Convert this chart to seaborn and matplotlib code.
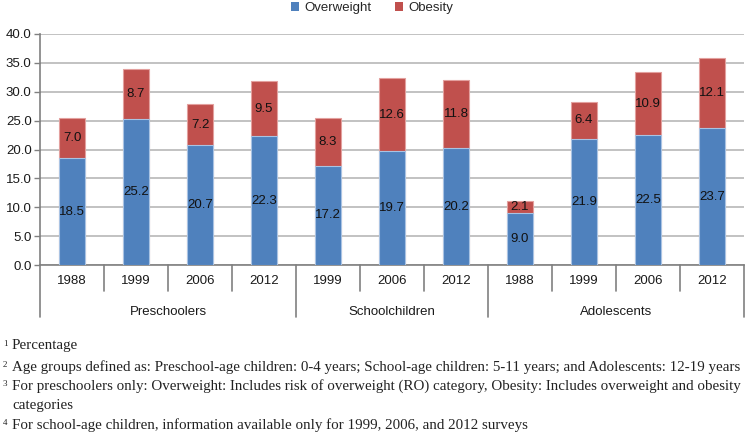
import matplotlib
matplotlib.use("Agg")
import matplotlib.pyplot as plt
import matplotlib.transforms as mtransforms
from matplotlib.patches import Patch
import seaborn as sns
import pandas as pd

groups = ["Preschoolers", "Preschoolers", "Preschoolers", "Preschoolers",
          "Schoolchildren", "Schoolchildren", "Schoolchildren",
          "Adolescents", "Adolescents", "Adolescents", "Adolescents"]
years = ["1988", "1999", "2006", "2012", "1999", "2006", "2012",
         "1988", "1999", "2006", "2012"]
overweight = [18.5, 25.2, 20.7, 22.3, 17.2, 19.7, 20.2, 9.0, 21.9, 22.5, 23.7]
obesity = [7.0, 8.7, 7.2, 9.5, 8.3, 12.6, 11.8, 2.1, 6.4, 10.9, 12.1]
yticks = [0, 5, 10, 15, 20, 25, 30, 35, 40]
footnotes = [
    ("1", "Percentage"),
    ("2", "Age groups defined as: Preschool-age children: 0-4 years; School-age children: 5-11 years; and Adolescents: 12-19 years"),
    ("3", "For preschoolers only: Overweight: Includes risk of overweight (RO) category, Obesity: Includes overweight and obesity"),
    ("", "categories"),
    ("4", "For school-age children, information available only for 1999, 2006, and 2012 surveys"),
]

BLUE = "#4f81bd"
RED = "#c0504d"
FS = 9.5

df = pd.DataFrame({"group": groups, "year": years,
                   "overweight": overweight, "obesity": obesity})
df["key"] = df["group"] + " " + df["year"]
df["total"] = df["overweight"] + df["obesity"]
order = list(df["key"])

sns.set_theme(style="white")
plt.rcParams["font.family"] = ["Liberation Sans", "DejaVu Sans"]

fig = plt.figure(figsize=(7.48, 4.33), dpi=100)
ax = fig.add_axes([40 / 748, 1 - 265 / 433, 704 / 748, 231 / 433])

sns.barplot(data=df, x="key", y="total", order=order, color=RED, width=0.41,
            edgecolor="#e3a09e", linewidth=0.8, saturation=1, ax=ax, zorder=3)
sns.barplot(data=df, x="key", y="overweight", order=order, color=BLUE, width=0.41,
            edgecolor="#a9c3e3", linewidth=0.8, saturation=1, ax=ax, zorder=4)

ax.set_xlim(-0.5, len(order) - 0.5)
ax.set_ylim(0, 40)
ax.set_yticks(yticks)
ax.set_yticklabels([f"{v:.1f}" for v in yticks], fontsize=FS, color="#1a1a1a")
ax.yaxis.grid(True, color="#bdbdbd", linewidth=1.3, zorder=0)
ax.set_axisbelow(True)
ax.set_xlabel("")
ax.set_ylabel("")
ax.tick_params(axis="y", length=4, width=1, color="#808080", pad=2, left=True)
ax.tick_params(axis="x", length=0, pad=7)
ax.set_xticks(range(len(order)))
ax.set_xticklabels(years, fontsize=FS, color="#1a1a1a")
for s in ["top", "right"]:
    ax.spines[s].set_visible(False)
for s in ["left", "bottom"]:
    ax.spines[s].set_color("#808080")
    ax.spines[s].set_linewidth(1.2)

# value labels centered in segments
for i, (ov, ob) in enumerate(zip(overweight, obesity)):
    ax.text(i, ov / 2, f"{ov:.1f}", ha="center", va="center", fontsize=FS,
            color="#111111", zorder=6)
    ax.text(i, ov + ob / 2, f"{ob:.1f}", ha="center", va="center", fontsize=FS,
            color="#111111", zorder=6)

# separators below axis
trans = mtransforms.blended_transform_factory(ax.transData, ax.transAxes)
short_bottom = -(291 - 265) / 231
long_bottom = -(317 - 265) / 231
for i in range(1, len(groups)):
    is_group = groups[i] != groups[i - 1]
    ax.plot([i - 0.5, i - 0.5], [0, long_bottom if is_group else short_bottom],
            transform=trans, color="#808080", lw=1.2, clip_on=False)
ax.plot([-0.5, -0.5], [0, long_bottom], transform=trans, color="#808080",
        lw=1.2, clip_on=False)
ax.plot([len(groups) - 0.5] * 2, [0, long_bottom], transform=trans,
        color="#808080", lw=1.2, clip_on=False)

# group labels
uniq = []
for g in groups:
    if g not in uniq:
        uniq.append(g)
for g in uniq:
    idx = [i for i, gg in enumerate(groups) if gg == g]
    ax.text((idx[0] + idx[-1]) / 2, -(312 - 265) / 231, g, transform=trans,
            ha="center", va="center", fontsize=FS, color="#1a1a1a")

# legend
handles = [Patch(facecolor=BLUE, edgecolor="none", label="Overweight"),
           Patch(facecolor=RED, edgecolor="none", label="Obesity")]
fig.legend(handles=handles, loc="center", bbox_to_anchor=(372 / 748, 1 - 8 / 433),
           ncol=2, frameon=False, fontsize=FS, handlelength=0.6, handleheight=0.6,
           handletextpad=0.4, columnspacing=1.8)

# footnotes
ys = [346, 367, 386, 405, 425]
for (num, txt), y in zip(footnotes, ys):
    if num:
        fig.text(3 / 748, 1 - (y - 2) / 433, num, fontsize=6.5,
                 family=["Liberation Serif"], va="center", ha="left", color="#222222")
    fig.text(12 / 748, 1 - y / 433, txt, fontsize=10.8,
             family=["Liberation Serif"], va="center", ha="left", color="#222222")

fig.savefig("out.png", dpi=100)
